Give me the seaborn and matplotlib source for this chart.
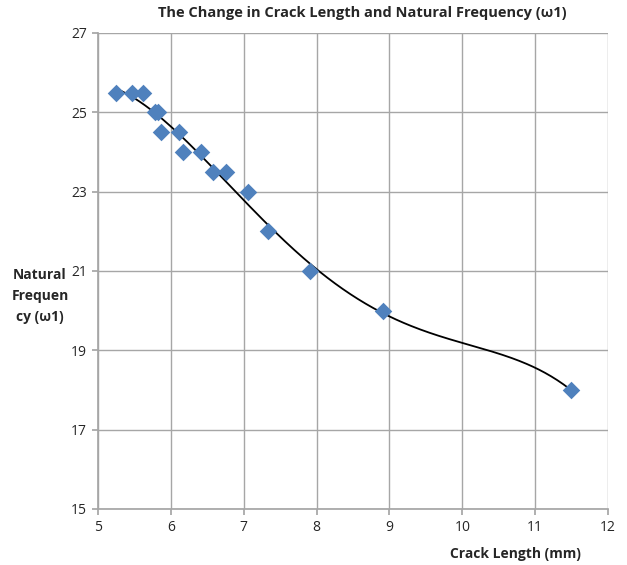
import numpy as np
import pandas as pd
import matplotlib
matplotlib.use("Agg")
import matplotlib.pyplot as plt
import seaborn as sns

crack_length = [5.25, 5.47, 5.62, 5.78, 5.82, 5.86, 6.11, 6.17, 6.41, 6.58, 6.76, 7.06, 7.33, 7.91, 8.91, 11.49]
frequency = [25.5, 25.5, 25.5, 25.0, 25.0, 24.5, 24.5, 24.0, 24.0, 23.5, 23.5, 23.0, 22.0, 21.0, 20.0, 18.0]
x_ticks = [5, 6, 7, 8, 9, 10, 11, 12]
y_ticks = [15, 17, 19, 21, 23, 25, 27]

df = pd.DataFrame({"x": crack_length, "y": frequency})

sns.set_theme(style="white")
plt.rcParams['font.family'] = ['Open Sans', 'DejaVu Sans']

fig = plt.figure(figsize=(6.27, 5.65), dpi=100)
ax = fig.add_axes([98/627, 1 - 509/565, 510/627, 476/565])

# polynomial trendline (order 4)
coef = np.polyfit(df["x"], df["y"], 4)
xs = np.linspace(min(crack_length), max(crack_length), 300)
ys = np.polyval(coef, xs)
ax.plot(xs, ys, color="black", lw=1.3, zorder=3)

sns.scatterplot(data=df, x="x", y="y", marker="D", s=80, color="#4F81BD",
                edgecolor="#4F81BD", linewidth=0, ax=ax, zorder=4)

ax.set_xlim(5, 12)
ax.set_ylim(15, 27)
ax.set_xticks(x_ticks)
ax.set_yticks(y_ticks)
ax.set_xticklabels([str(t) for t in x_ticks], fontsize=10)
ax.set_yticklabels([str(t) for t in y_ticks], fontsize=10)
ax.grid(True, color="#A6A6A6", lw=1)
ax.set_axisbelow(True)
for s in ["top", "right"]:
    ax.spines[s].set_visible(False)
ax.spines["left"].set_color("#A6A6A6")
ax.spines["bottom"].set_color("#A6A6A6")
ax.tick_params(axis="both", length=4, color="#A6A6A6", direction="out", pad=4)
ax.tick_params(left=True, bottom=True)

ax.set_xlabel("")
ax.set_ylabel("")
fig.text(515/627, 1 - 554/565, "Crack Length (mm)", ha="center", va="center",
         fontsize=10, fontweight="bold")
fig.text(40/627, 1 - 296/565, "Natural\nFrequen\ncy (ω1)", ha="center", va="center",
         fontsize=10, fontweight="bold", linespacing=1.6)
fig.text(362/627, 1 - 13/565, "The Change in Crack Length and Natural Frequency (ω1)",
         ha="center", va="center", fontsize=10.5, fontweight="bold")

fig.savefig("out.png", dpi=100)
